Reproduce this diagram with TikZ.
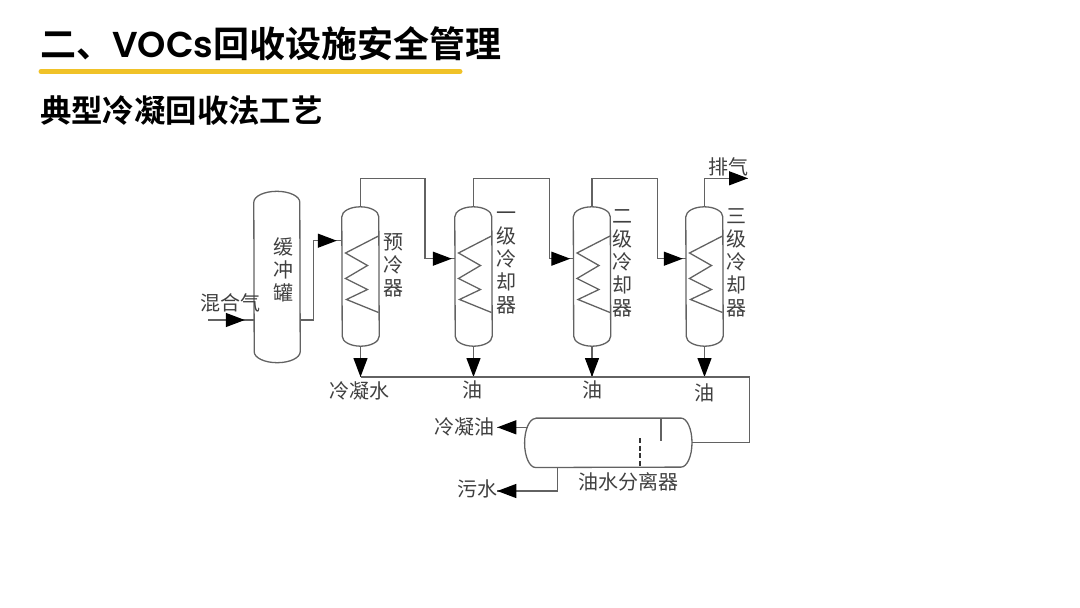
\documentclass[tikz,border=0pt]{standalone}
\usepackage{fontspec}
\setmainfont{Noto Sans CJK SC}
\newfontfamily\titlefont[BoldFont=Noto Sans CJK SC Bold]{Noto Sans CJK SC}
\newfontfamily\latinfont[BoldFont=Poppins SemiBold]{Poppins}
\usetikzlibrary{arrows.meta}

\definecolor{pipegray}{HTML}{626262}
\definecolor{labelgray}{HTML}{404040}
\definecolor{baryellow}{HTML}{F0C228}

\tikzset{
  pipe/.style={draw=pipegray, line width=1.3pt},
  tipped/.style={postaction={draw=pipegray, line width=1.3pt,
      -{Triangle[length=19pt,width=14pt,black]}, shorten >=#1}},
  tipped/.default=3pt,
  vessel/.style={minimum width=37pt, minimum height=139pt, inner sep=0pt},
  tag/.style={text=labelgray, font=\fontsize{20}{23}\selectfont, inner sep=0pt},
  vtag/.style={tag, align=center},
}

\begin{document}
\begin{tikzpicture}[x=1pt, y=-1pt]
  \useasboundingbox (0, 0) rectangle (1080, 608);

  % Heading
  \node[anchor=west, inner sep=0pt, font=\titlefont\bfseries\fontsize{36}{40}\selectfont] (title) at (40, 44) {二、{\latinfont VOCs}回收设施安全管理};
  \draw[baryellow, line width=5pt, line cap=round] (41, 71.5) -- (460, 71.5);
  \node[anchor=west, inner sep=0pt, font=\titlefont\bfseries\fontsize{31.4}{34}\selectfont] (subtitle) at (40, 111) {典型冷凝回收法工艺};

  % Buffer tank
  \node[vessel, minimum width=46pt, minimum height=171pt] (tank) at (277, 277) {};
  \draw[pipe] ([yshift=-11pt]tank.north west)
    arc[start angle=180, end angle=0, x radius=23pt, y radius=11pt]
    -- ([yshift=11pt]tank.south east)
    arc[start angle=0, end angle=-180, x radius=23pt, y radius=11pt] -- cycle;

  % Condenser columns with their coils
  \foreach \name/\xc in {pre/360.5, one/473.5, two/592, three/704.5} {
    \node[vessel] (\name) at (\xc, 276.5) {};
    \draw[pipe] ([yshift=-10pt]\name.north west)
      arc[start angle=180, end angle=0, x radius=18.5pt, y radius=10pt]
      -- ([yshift=10pt]\name.south east)
      arc[start angle=0, end angle=-180, x radius=18.5pt, y radius=10pt] -- cycle;
    \draw[pipe, shift={(\name.center)}] (18, -40.5) -- (-15, -23.5) -- (7, -11)
      -- (-15, 2) -- (7, 13) -- (-14, 23) -- (18, 36);
  }

  % Oil-water separator
  \node[vessel, minimum width=167pt, minimum height=49pt] (sep) at (608.3, 442.8) {};
  \draw[pipe] ([xshift=11pt]sep.north west) -- ([xshift=-11pt]sep.north east)
    arc[start angle=90, end angle=-90, x radius=11pt, y radius=24.5pt]
    -- ([xshift=11pt]sep.south west)
    arc[start angle=270, end angle=90, x radius=11pt, y radius=24.5pt];
  \draw[pipe] (sep.north -| 661, 0) -- (661, 441);
  \draw[black!80, line width=2pt, dash pattern=on 5pt off 2.5pt] (639.5, 438) -- (sep.south -| 639.5, 0);

  % Free ends and bends
  \coordinate (feed) at (208, 320);
  \coordinate (tankout) at (313.5, 320);
  \coordinate (bendA) at (425, 178.3);
  \coordinate (bendB) at (549.3, 178.3);
  \coordinate (bendC) at (657.3, 178.3);
  \coordinate (vent) at (748, 178.3);
  \coordinate (hdr) at (749.5, 377);
  \coordinate (oilout) at (497.3, 427.3);
  \coordinate (oilport) at (527.5, 427.3);
  \coordinate (drainport) at (557.7, 467.3);
  \coordinate (drain) at (497.3, 491);

  % Gas line
  \draw[pipe, tipped=9pt] (feed) -- (feed -| tank.west);
  \draw[pipe] (tank.east |- tankout) -- (tankout);
  \draw[pipe, tipped=5pt] (tankout) |- ([yshift=35.8pt]pre.west);
  \foreach \src/\bend/\dst in {pre/bendA/one, one/bendB/two, two/bendC/three} {
    \draw[pipe, tipped] (\src.north) |- (\bend) |- ([yshift=17.8pt]\dst.west);
  }
  \draw[pipe, tipped=0pt] (three.north) |- (vent);

  % Condensate header
  \foreach \name in {pre, one, two, three} {
    \draw[pipe, tipped=0pt] (\name.south) -- (\name.south |- hdr);
  }
  \draw[pipe] (pre.south |- hdr) -- (hdr) |- (sep.east);

  % Separator outlets
  \draw[pipe, tipped=0pt] (oilport) -- (oilout);
  \draw[pipe, tipped=0pt] (drainport) |- (drain);

  % Labels
  \node[tag] (feedtag) at (230.5, 302.5) {混合气};
  \node[vtag] (tanktag) at (283, 270) {缓\\冲\\罐};
  \node[vtag] (pretag) at (393.5, 265.5) {预\\冷\\器};
  \node[vtag] (onetag) at (506, 263) {一\\级\\冷\\却\\器};
  \node[vtag] (twotag) at (622.7, 263) {二\\级\\冷\\却\\器};
  \node[vtag] (threetag) at (736.7, 263) {三\\级\\冷\\却\\器};
  \node[tag] (venttag) at (728, 166.5) {排气};
  \node[tag] (watertag) at (359.5, 390.5) {冷凝水};
  \node[tag] (oiltagA) at (472.5, 390) {油};
  \node[tag] (oiltagB) at (592.5, 390) {油};
  \node[tag] (oiltagC) at (704, 393) {油};
  \node[tag] (oilouttag) at (464.5, 427) {冷凝油};
  \node[tag] (draintag) at (477.5, 489) {污水};
  \node[tag] (septag) at (628.5, 481.5) {油水分离器};
\end{tikzpicture}
\end{document}
